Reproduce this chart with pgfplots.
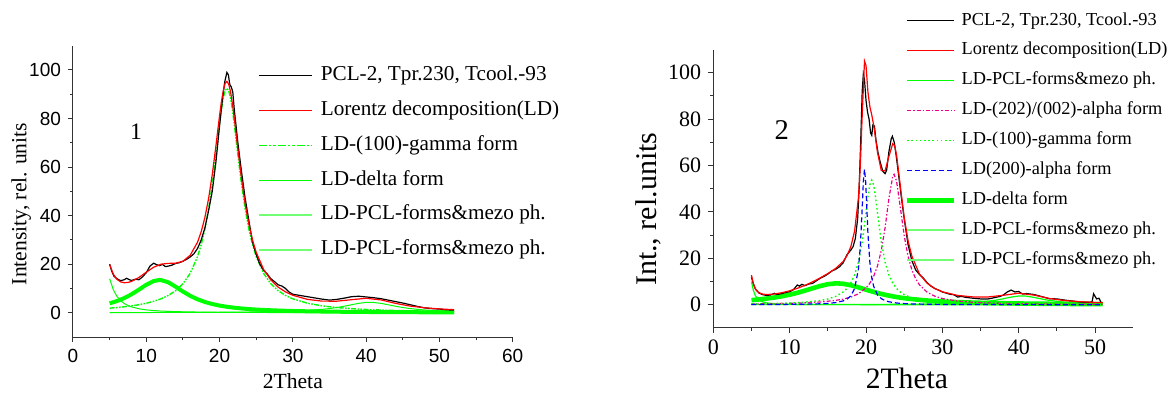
\documentclass[border=0pt]{standalone}
\usepackage{fontspec}
\setmainfont{Liberation Serif}
\newfontfamily\arialfont{Liberation Sans}
\usepackage{pgfplots}
\pgfplotsset{compat=1.18}
\definecolor{lgr}{rgb}{0.45,1,0.45}
\begin{document}
\begin{tikzpicture}
\path[use as bounding box] (0,0) rectangle (584.5pt,-196pt);
% ---------------- Plot 1 ----------------
\begin{axis}[
  at={(36.5pt,-168.5pt)}, anchor=south west,
  scale only axis, width=219.85pt, height=145.65pt,
  xmin=0, xmax=60, ymin=-10, ymax=110,
  axis lines=left, axis line style={-, black!80, line width=0.5pt},
  xtick={0,10,...,60}, ytick={0,20,...,100},
  minor x tick num=1, minor y tick num=1,
  tick align=outside, major tick length=2.5pt, minor tick length=1.5pt,
  every tick/.style={black!80, line width=0.5pt},
  /pgf/number format/assume math mode=true,
  tick label style={font=\arialfont\fontsize{9.5}{11}\selectfont},
  xlabel={2Theta},
  xlabel style={font=\fontsize{10.8}{13}\selectfont, at={(axis description cs:0.5,-0.178)}, anchor=base},
  ylabel={Intensity, rel. units},
  ylabel style={font=\fontsize{10.8}{13}\selectfont, at={(axis description cs:-0.1176,0.4566)}, anchor=center},
  legend cell align=left,
  legend style={at={(axis description cs:0.4208,0.9313)}, anchor=north west,
    draw=none, fill=none, inner sep=0pt, outer sep=0pt,
    row sep=7.3pt, column sep=4pt,
    font=\fontsize{10.6}{12}\selectfont,
    nodes={inner sep=0pt, text height=7.5pt, text depth=2.6pt}},
  legend image code/.code={\draw[#1] (0pt,0pt) -- (26.5pt,0pt);},
]
\addlegendimage{black, line width=0.6pt}
\addlegendentry{PCL-2, Tpr.230, Tcool.-93}
\addlegendimage{red, line width=0.6pt}
\addlegendentry{Lorentz decomposition(LD)}
\addlegendimage{green, line width=0.9pt, dash pattern=on 4pt off 1pt on 1.2pt off 1pt on 1.2pt off 1pt}
\addlegendentry{LD-(100)-gamma form}
\addlegendimage{green, line width=0.6pt}
\addlegendentry{LD-delta form}
\addlegendimage{lgr, line width=0.9pt}
\addlegendentry{LD-PCL-forms\&mezo ph.}
\addlegendimage{lgr, line width=0.9pt}
\addlegendentry{LD-PCL-forms\&mezo ph.}
% zero line
\addplot[green, line width=0.5pt, forget plot] coordinates {(5,0) (52,0)};
% delta form (thick)
\addplot[green, line width=2pt, forget plot] coordinates {
(5,3.89) (5.5,4.33) (6,4.83) (6.5,5.40) (7,6.06) (7.5,6.80) (8,7.63) (9,9.52) (10,11.51) (11,13.05) (11.8,13.5) (12,13.47) (13,12.54) (14,10.73) (15,8.73) (16,6.96) (17,5.53) (18,4.43) (19,3.59) (20,2.94) (21,2.45) (22,2.06) (23,1.76) (24,1.51) (25,1.31) (26,1.15) (27,1.01) (28,0.90) (30,0.72) (32,0.59) (34,0.50) (36,0.42) (38,0.36) (40,0.31) (42,0.27) (44,0.24) (46,0.21) (48,0.19) (50,0.17) (52,0.155)};
% thin start component
\addplot[green, line width=0.5pt, forget plot] coordinates {
(5,14.01) (5.5,9.50) (6,6.72) (6.5,4.95) (7,3.78) (7.5,2.96) (8,2.38) (9,1.63) (10,1.18) (11,0.90) (12,0.70) (13,0.56) (14,0.46) (15,0.39) (16,0.33) (18,0.24) (20,0.19) (22,0.15) (24,0.12) (26,0.10) (28,0.083) (30,0.074) (34,0.056) (38,0.043) (42,0.035) (46,0.029) (52,0.022)};
% hump near 40
\addplot[green, line width=0.5pt, forget plot] coordinates {
(5,0.07) (10,0.09) (15,0.13) (20,0.20) (22,0.24) (24,0.30) (26,0.38) (28,0.49) (30,0.67) (32,0.94) (34,1.39) (35,1.72) (36,2.15) (37,2.68) (38,3.29) (39,3.87) (40,4.25) (40.5,4.3) (41,4.25) (42,3.87) (43,3.29) (44,2.68) (45,2.15) (46,1.72) (47,1.39) (48,1.14) (50,0.79) (52,0.57)};
% gamma form
\addplot[green, line width=0.7pt, dash pattern=on 2.5pt off 0.7pt on 0.8pt off 0.7pt on 0.8pt off 0.7pt, forget plot] coordinates {
(5,1.89) (6,2.14) (7,2.45) (8,2.83) (9,3.30) (10,3.91) (11,4.69) (12,5.72) (13,7.12) (14,9.08) (15,11.94) (16,16.27) (17,23.13) (17.5,28.06) (18,34.43) (18.5,42.61) (19,52.86) (19.5,65.06) (20,77.90) (20.25,83.68) (20.5,88.36) (20.75,91.43) (21,92.5) (21.25,91.43) (21.5,88.36) (21.75,83.68) (22,77.90) (22.5,65.06) (23,52.86) (23.5,42.61) (24,34.43) (24.5,28.06) (25,23.13) (26,16.27) (27,11.94) (28,9.08) (29,7.12) (30,5.72) (32,3.91) (34,2.83) (36,2.14) (38,1.68) (40,1.35) (42,1.11) (44,0.92) (46,0.78) (48,0.67) (50,0.58) (52,0.51)};
% experiment
\addplot[black, line width=0.6pt, forget plot] coordinates {
(5,20) (5.3,17) (5.6,15) (6,14) (6.5,13.2) (7,13.6) (7.3,14.2) (7.7,13.6) (8,13.3) (8.5,13.8) (9,13.6) (9.5,14.8) (10,16.5) (10.5,19.2) (11,20.4) (11.4,19.8) (11.8,19.4) (12.2,19.9) (12.6,19.0) (13,19.2) (13.5,19.6) (14,20.3) (14.5,20.6) (15,21.2) (15.5,22.0) (16,23.0) (16.5,24.3) (17,26.5) (17.5,30) (18,35) (18.5,42) (19,50) (19.5,62) (20,77) (20.4,88) (20.7,95) (21,99) (21.2,98) (21.4,94) (21.6,93) (21.8,91) (22,84) (22.5,70) (23,58) (23.5,47) (24,38) (24.5,29) (25,24) (25.5,20) (26,17.5) (26.5,16) (27,14) (27.5,12.8) (28,11.5) (28.5,11) (29,10) (29.5,8.5) (30,7.6) (32,6.6) (34,5.6) (35,5.2) (36,5.5) (37,6.0) (38,6.6) (39,6.8) (40,6.5) (41,6.2) (42,5.8) (43,5.2) (44,4.6) (45,4.0) (46,3.3) (47,2.6) (48,2.0) (49,1.7) (50,1.5) (51,1.2) (52,1.1)};
% Lorentz sum
\addplot[red, line width=0.6pt, forget plot] coordinates {
(5,19.86) (5.5,15.89) (6,13.76) (6.5,12.71) (7,12.36) (7.5,12.47) (8,12.92) (9,14.54) (10,16.69) (11,18.74) (12,19.99) (13,20.33) (14,20.39) (15,21.19) (16,23.70) (17,29.10) (17.5,33.42) (18,39.27) (18.5,47.00) (19,56.84) (19.5,68.69) (20,81.23) (20.25,86.88) (20.5,91.42) (20.75,94.38) (21,95.33) (21.25,94.16) (21.5,90.98) (21.75,86.22) (22,80.35) (22.5,67.36) (23,55.02) (23.5,44.65) (24,36.36) (24.5,29.91) (25,24.89) (26,17.90) (27,13.47) (28,10.55) (29,8.57) (30,7.18) (32,5.50) (34,4.78) (36,4.76) (38,5.37) (40,5.95) (42,5.29) (44,3.87) (46,2.74) (48,2.03) (50,1.56) (52,1.26)};
\node[font=\fontsize{11.8}{13}\selectfont, anchor=base] at (axis cs:8.6,71.4) {1};
\end{axis}
% ---------------- Plot 2 ----------------
\begin{axis}[
  at={(356.65pt,-163.95pt)}, anchor=south west,
  scale only axis, width=210pt, height=139.2pt,
  xmin=0, xmax=55, ymin=-10, ymax=110,
  axis lines=left, axis line style={-, black!80, line width=0.5pt},
  xtick={0,10,...,50}, ytick={0,20,...,100},
  minor x tick num=1, minor y tick num=1,
  tick align=outside, major tick length=2.5pt, minor tick length=1.5pt,
  every tick/.style={black!80, line width=0.5pt},
  /pgf/number format/assume math mode=true,
  tick label style={font=\fontsize{11}{13}\selectfont},
  xlabel={2Theta},
  xlabel style={font=\fontsize{14.8}{17}\selectfont, at={(axis description cs:0.461,-0.2166)}, anchor=base},
  ylabel={Int., rel.units},
  ylabel style={font=\fontsize{15}{17}\selectfont, at={(axis description cs:-0.154,0.4264)}, anchor=center},
  legend cell align=left,
  legend style={at={(axis description cs:0.456,1.1347)}, anchor=north west,
    draw=none, fill=none, inner sep=0pt, outer sep=0pt,
    row sep=6.16pt, column sep=2.5pt,
    font=\fontsize{9.15}{11}\selectfont,
    nodes={inner sep=0pt, text height=6.5pt, text depth=2.3pt}},
  legend image code/.code={\draw[#1] (0pt,0pt) -- (23.65pt,0pt);},
]
\addlegendimage{black, line width=0.6pt}
\addlegendentry{PCL-2, Tpr.230, Tcool.-93}
\addlegendimage{red, line width=0.6pt}
\addlegendentry{Lorentz decomposition(LD)}
\addlegendimage{green, line width=0.6pt}
\addlegendentry{LD-PCL-forms\&mezo ph.}
\addlegendimage{magenta, line width=0.6pt, dash pattern=on 2pt off 1pt on 0.7pt off 1pt}
\addlegendentry{LD-(202)/(002)-alpha form}
\addlegendimage{green, line width=0.7pt, dash pattern=on 0.8pt off 1.3pt}
\addlegendentry{LD-(100)-gamma form}
\addlegendimage{blue, line width=0.6pt, dash pattern=on 2.5pt off 1.5pt}
\addlegendentry{LD(200)-alpha form}
\addlegendimage{green, line width=2.3pt}
\addlegendentry{LD-delta form}
\addlegendimage{lgr, line width=0.9pt}
\addlegendentry{LD-PCL-forms\&mezo ph.}
\addlegendimage{lgr, line width=0.9pt}
\addlegendentry{LD-PCL-forms\&mezo ph.}
% zero line
\addplot[green, line width=0.6pt, forget plot] coordinates {(5,0) (51,0)};
% delta thick
\addplot[green, line width=2.3pt, forget plot] coordinates {
(5,1.97) (6,2.28) (7,2.65) (8,3.10) (9,3.66) (10,4.33) (11,5.14) (12,6.07) (13,7.08) (14,8.06) (15,8.83) (16,9.19) (16.2,9.2) (17,9.03) (18,8.40) (19,7.49) (20,6.47) (21,5.50) (22,4.64) (23,3.91) (24,3.31) (25,2.82) (26,2.42) (27,2.09) (28,1.81) (30,1.40) (32,1.11) (34,0.90) (36,0.74) (38,0.62) (40,0.52) (42,0.45) (44,0.39) (46,0.34) (48,0.30) (50,0.27) (51,0.25)};
% thin start
\addplot[green, line width=0.6pt, forget plot] coordinates {
(5,10) (5.25,6.15) (5.5,4) (5.75,2.76) (6,2) (6.5,1.18) (7,0.77) (8,0.4) (9,0.24) (10,0.16) (12,0.09) (15,0.045) (20,0.021) (25,0.012) (30,0.008) (40,0.004) (51,0.002)};
% hump near 40
\addplot[green, line width=0.6pt, forget plot] coordinates {
(5,0.04) (10,0.05) (15,0.07) (20,0.11) (25,0.18) (28,0.28) (30,0.39) (32,0.56) (34,0.88) (36,1.47) (37,1.95) (38,2.58) (39,3.28) (40,3.75) (40.4,3.8) (41,3.69) (42,3.14) (43,2.45) (44,1.85) (46,1.07) (48,0.67) (50,0.45) (51,0.37)};
% (202)/(002) alpha
\addplot[magenta, line width=0.6pt, dash pattern=on 2pt off 1pt on 0.7pt off 1pt, forget plot] coordinates {
(5,0.32) (8,0.45) (10,0.59) (12,0.81) (14,1.17) (16,1.84) (17,2.40) (18,3.27) (19,4.69) (20,7.23) (20.5,9.28) (21,12.25) (21.5,16.68) (22,23.39) (22.5,33.28) (23,45.84) (23.5,55.4) (23.67,56.2) (24,53.28) (24.5,41.73) (25,29.74) (25.5,20.93) (26,15.06) (26.5,11.18) (27,8.54) (28,5.39) (29,3.68) (30,2.66) (32,1.57) (34,1.03) (36,0.725) (38,0.539) (40,0.416) (44,0.269) (48,0.188) (51,0.149)};
% (100) gamma
\addplot[green, line width=0.7pt, dash pattern=on 0.8pt off 1.3pt, forget plot] coordinates {
(5,0.34) (8,0.52) (10,0.73) (12,1.09) (14,1.81) (15,2.46) (16,3.53) (17,5.44) (17.5,7.02) (18,9.32) (18.5,12.82) (19,18.33) (19.5,27.07) (20,39.65) (20.25,46.4) (20.5,51.67) (20.75,53.7) (21,51.67) (21.25,46.4) (21.5,39.65) (22,27.07) (22.5,18.33) (23,12.82) (23.5,9.32) (24,7.02) (24.5,5.44) (25,4.34) (26,2.92) (27,2.10) (28,1.57) (30,0.98) (32,0.665) (34,0.48) (38,0.285) (42,0.188) (46,0.133) (51,0.093)};
% (200) alpha
\addplot[blue, line width=0.6pt, dash pattern=on 2.5pt off 1.5pt, forget plot] coordinates {
(5,0.06) (8,0.09) (10,0.14) (12,0.22) (14,0.39) (15,0.57) (16,0.90) (17,1.63) (17.5,2.39) (18,3.80) (18.5,6.88) (19,15.22) (19.25,24.95) (19.5,41.74) (19.65,53.1) (19.8,58.4) (19.95,53.1) (20,49.6) (20.25,30.77) (20.5,18.41) (20.75,11.68) (21,7.91) (21.5,4.23) (22,2.60) (22.5,1.75) (23,1.26) (24,0.74) (25,0.48) (26,0.34) (28,0.195) (30,0.126) (34,0.065) (40,0.032) (45,0.02) (51,0.013)};
% experiment
\addplot[black, line width=0.6pt, forget plot] coordinates {
(5,11.8) (5.2,9.5) (5.5,6.8) (6,5.0) (6.5,4.3) (7,4.0) (7.5,4.2) (8,4.9) (8.3,4.4) (8.7,4.6) (9,4.8) (9.5,5.3) (10,5.6) (10.5,6.5) (11,8.5) (11.3,8.0) (11.6,8.8) (12,8.2) (12.5,8.9) (13,9.2) (13.5,10.3) (14,11.4) (14.5,12.2) (15,13.2) (15.5,14.5) (16,15.2) (16.5,16.3) (17,18.0) (17.5,21.5) (18,23.5) (18.3,25.0) (18.6,28.5) (18.9,37) (19.1,50) (19.3,70) (19.5,92) (19.65,99.5) (19.8,97) (20.0,88) (20.2,83) (20.4,80) (20.6,74) (20.75,73) (20.9,77.5) (21.1,77) (21.3,71) (21.6,65) (21.9,61) (22.2,57.5) (22.5,56.5) (22.7,58) (23.0,66) (23.3,71.5) (23.45,72.6) (23.7,70) (24.0,63) (24.3,55) (24.6,47) (25,37) (25.5,26) (26,19) (26.5,15) (27,13) (27.5,11.5) (28,9.5) (28.5,8.0) (29,7.0) (29.5,6.3) (30,5.5) (31,4.5) (31.5,4.3) (32,3.3) (32.5,3.6) (33,3.2) (34,2.8) (35,2.5) (36,2.5) (36.5,2.8) (37,3.2) (37.5,3.5) (38,4.2) (38.5,5.5) (39,6.3) (39.5,5.5) (40,5.7) (40.5,4.6) (41,4.8) (42,4.4) (43,3.5) (44,2.6) (45,2.5) (46,2.0) (47,1.6) (48,1.2) (49,1.0) (49.6,1.2) (49.8,4.7) (50.2,2.5) (50.5,2.8) (50.8,0.9)};
% Lorentz sum
\addplot[red, line width=0.6pt, forget plot] coordinates {
(5,12.73) (5.25,8.98) (5.5,6.92) (5.75,5.79) (6,5.14) (6.5,4.54) (7,4.39) (8,4.60) (9,5.19) (10,6.00) (11,7.05) (12,8.34) (13,9.84) (14,11.56) (15,13.43) (16,15.58) (17,18.61) (17.5,21.09) (18,24.91) (18.5,31.67) (19,45.85) (19.25,59.72) (19.5,81.65) (19.8,105.0) (20,103.05) (20.25,91.65) (20.5,85.43) (20.75,81.83) (21,77.43) (21.25,71.67) (21.5,65.71) (22,57.83) (22.5,57.76) (23,63.98) (23.5,69.42) (23.75,68.51) (24,64.51) (24.5,50.98) (25,37.56) (25.5,27.66) (26,20.95) (27,13.22) (28,9.25) (29,6.98) (30,5.56) (32,4.00) (34,3.36) (36,3.35) (38,4.07) (40,4.95) (42,4.14) (44,2.69) (46,1.78) (48,1.30) (50,0.99) (51,0.87)};
\node[font=\fontsize{14.3}{16}\selectfont, anchor=base] at (axis cs:8.96,71.2) {2};
\end{axis}
\end{tikzpicture}
\end{document}
